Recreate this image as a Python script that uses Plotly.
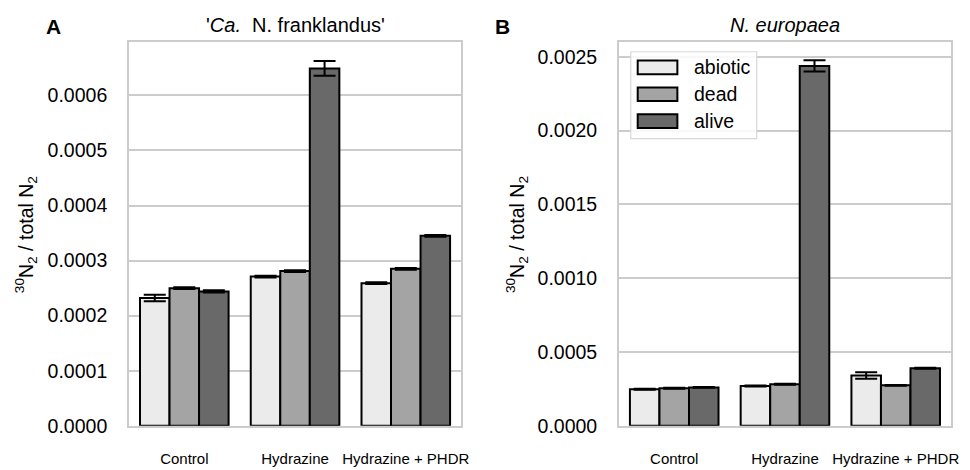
import plotly.graph_objects as go

W, H = 970, 470

categories = ["Control", "Hydrazine", "Hydrazine + PHDR"]
series = ["abiotic", "dead", "alive"]
colors = {"abiotic": "#ebebeb", "dead": "#a4a4a4", "alive": "#696969"}

# Panel A: 'Ca. N. franklandus'
a_abiotic = [0.000232, 0.000271, 0.000259]
a_dead = [0.000250, 0.000281, 0.000285]
a_alive = [0.000244, 0.000649, 0.000345]
a_abiotic_err = [0.0000060, 0.0000015, 0.0000015]
a_dead_err = [0.0000015, 0.0000015, 0.0000015]
a_alive_err = [0.0000020, 0.0000135, 0.0000015]

# Panel B: N. europaea
b_abiotic = [0.000248, 0.000270, 0.000340]
b_dead = [0.000254, 0.000281, 0.000274]
b_alive = [0.000260, 0.002438, 0.000390]
b_abiotic_err = [0.000003, 0.000003, 0.000022]
b_dead_err = [0.000003, 0.000003, 0.000003]
b_alive_err = [0.000003, 0.000038, 0.000004]

a_ticks = [0.0, 0.0001, 0.0002, 0.0003, 0.0004, 0.0005, 0.0006]
b_ticks = [0.0, 0.0005, 0.0010, 0.0015, 0.0020, 0.0025]

FONT = "Liberation Sans, Arial, Helvetica, sans-serif"

def px_x(p):
    return p / W

def px_y(p):
    return 1 - p / H

fig = go.Figure()

panel_a = {"abiotic": (a_abiotic, a_abiotic_err), "dead": (a_dead, a_dead_err), "alive": (a_alive, a_alive_err)}
panel_b = {"abiotic": (b_abiotic, b_abiotic_err), "dead": (b_dead, b_dead_err), "alive": (b_alive, b_alive_err)}

for axn, panel in (("", panel_a), ("2", panel_b)):
    for s in series:
        vals, errs = panel[s]
        fig.add_trace(go.Bar(
            x=categories, y=vals, name=s,
            xaxis="x" + axn, yaxis="y" + axn,
            marker=dict(color=colors[s], line=dict(color="black", width=2)),
            error_y=dict(type="data", array=errs, visible=True, color="black", thickness=2, width=11),
            showlegend=False,
        ))

y_dom = [px_y(436), px_y(43)]
axis_common = dict(showline=True, mirror=True, linecolor="#cccccc", linewidth=1.5, zeroline=False)

fig.update_layout(
    width=W, height=H,
    margin=dict(l=0, r=0, t=0, b=0),
    paper_bgcolor="white", plot_bgcolor="white",
    font=dict(family=FONT, color="black"),
    barmode="group", bargap=0.2, bargroupgap=0,
    xaxis=dict(domain=[px_x(130), px_x(465)], anchor="y", showgrid=False, ticks="",
               tickfont=dict(size=15), ticklabelstandoff=18, **axis_common),
    yaxis=dict(domain=y_dom, anchor="x", range=[0, 0.000697], tickvals=a_ticks,
               ticktext=[f"{v:.4f}" for v in a_ticks], showgrid=True, gridcolor="#cccccc",
               gridwidth=1.5, ticks="", tickfont=dict(size=19.5), ticklabelstandoff=16, **axis_common),
    xaxis2=dict(domain=[px_x(624), px_x(959)], anchor="y2", showgrid=False, ticks="",
                tickfont=dict(size=15), ticklabelstandoff=18, **axis_common),
    yaxis2=dict(domain=y_dom, anchor="x2", range=[0, 0.0026], tickvals=b_ticks,
                ticktext=[f"{v:.4f}" for v in b_ticks], showgrid=True, gridcolor="#cccccc",
                gridwidth=1.5, ticks="", tickfont=dict(size=19.5), ticklabelstandoff=16, **axis_common),
)

ytitle = "<sup>30</sup>N<sub>2</sub> / total N<sub>2</sub>"
annotations = [
    dict(text="<b>A</b>", x=px_x(54), y=px_y(27), font=dict(size=21)),
    dict(text="<b>B</b>", x=px_x(507), y=px_y(27), font=dict(size=21)),
    dict(text="'<i>Ca.</i>  N. franklandus'", x=px_x(297.5), y=px_y(26), font=dict(size=20)),
    dict(text="<i>N. europaea</i>", x=px_x(791.5), y=px_y(26), font=dict(size=20)),
    dict(text=ytitle, x=px_x(26), y=px_y(240), textangle=-90, font=dict(size=19.5)),
    dict(text=ytitle, x=px_x(521), y=px_y(240), textangle=-90, font=dict(size=19.5)),
]
for a in annotations:
    a.update(xref="paper", yref="paper", showarrow=False, xanchor="center", yanchor="middle")

# Manual legend in panel B (matplotlib-style wide patches)
shapes = [dict(type="rect", xref="paper", yref="paper",
               x0=px_x(636), x1=px_x(763), y0=px_y(142), y1=px_y(53),
               line=dict(color="#d8d8d8", width=1.2), fillcolor="rgba(255,255,255,0.85)", layer="above")]
row_y = [69, 96.5, 124]
for s, ry in zip(series, row_y):
    shapes.append(dict(type="rect", xref="paper", yref="paper",
                       x0=px_x(643), x1=px_x(683), y0=px_y(ry + 7), y1=px_y(ry - 7),
                       line=dict(color="black", width=2), fillcolor=colors[s], layer="above"))
    annotations.append(dict(text=s, xref="paper", yref="paper", x=px_x(698), y=px_y(ry),
                            xanchor="left", yanchor="middle", showarrow=False, font=dict(size=19.5)))

fig.update_layout(annotations=annotations, shapes=shapes)
fig.write_html("out.html")
